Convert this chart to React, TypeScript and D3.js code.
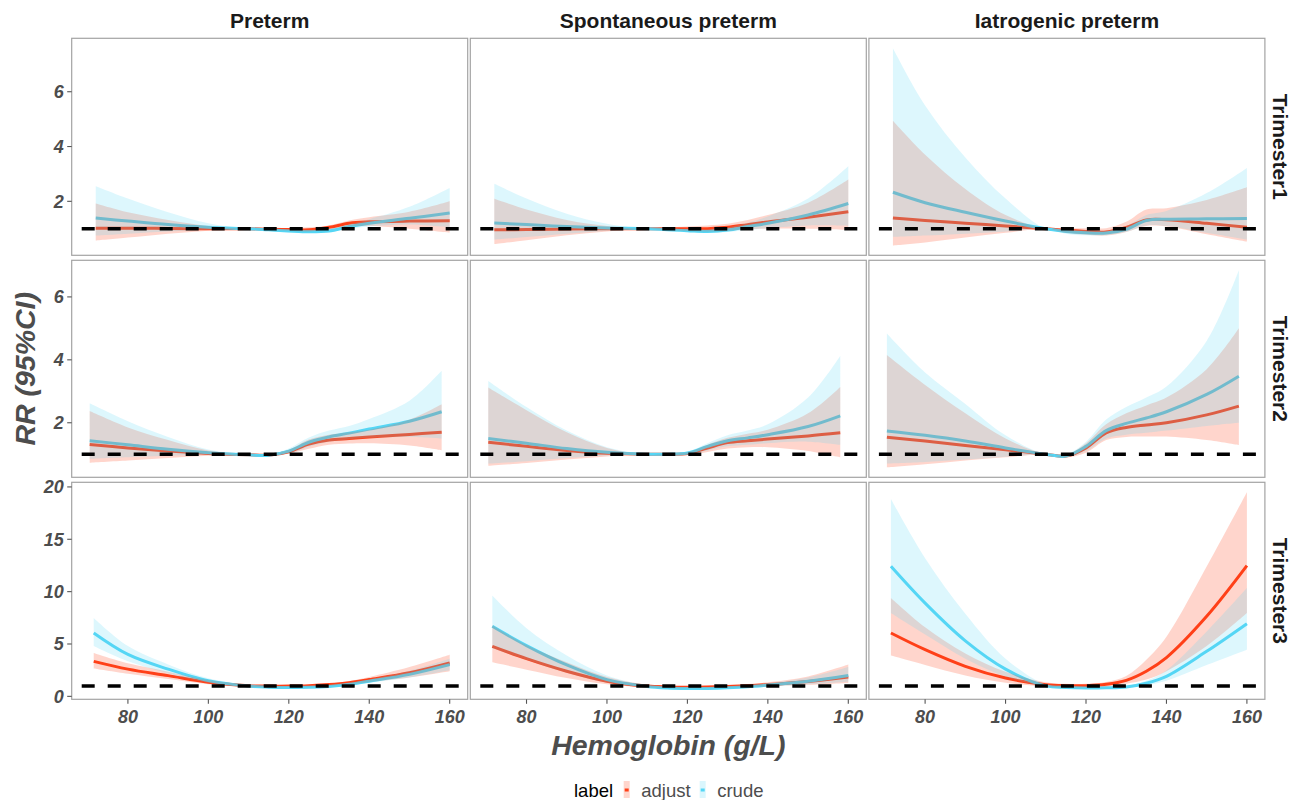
import React from "react";
import * as d3 from "d3";

// facet labels
const outcomes = ["Preterm", "Spontaneous preterm", "Iatrogenic preterm"];
const trimesters = ["Trimester1", "Trimester2", "Trimester3"];
const seriesLabels = ["adjust", "crude"];

// hemoglobin grid (g/L) per trimester
const hbT1 = [72, 80, 90, 100, 110, 115, 120, 125, 130, 135, 140, 150, 160];
const hbT2 = [70.5, 80, 90, 100, 110, 115, 120, 125, 130, 135, 140, 150, 158];
const hbT3 = [71.5, 80, 90, 100, 110, 115, 120, 125, 130, 135, 140, 150, 160];

// Trimester 1
const t1PreAdj = [1.02, 1.02, 1.01, 1.0, 1.0, 0.98, 0.97, 0.96, 1.05, 1.2, 1.25, 1.28, 1.29];
const t1PreAdjLo = [0.57, 0.68, 0.82, 0.93, 1.0, 0.95, 0.93, 0.9, 0.98, 1.08, 1.1, 1.0, 0.86];
const t1PreAdjHi = [1.92, 1.6, 1.32, 1.1, 1.0, 1.01, 1.02, 1.05, 1.12, 1.3, 1.42, 1.62, 2.0];
const t1PreCru = [1.39, 1.28, 1.15, 1.05, 1.0, 0.96, 0.92, 0.89, 0.92, 1.08, 1.2, 1.38, 1.57];
const t1PreCruLo = [0.75, 0.82, 0.9, 0.96, 1.0, 0.92, 0.86, 0.84, 0.87, 1.0, 1.08, 1.15, 1.05];
const t1PreCruHi = [2.55, 2.1, 1.6, 1.2, 1.0, 0.99, 0.98, 0.96, 1.0, 1.16, 1.35, 1.8, 2.49];

const t1SpoAdj = [0.96, 0.97, 0.99, 1.0, 1.0, 1.0, 1.0, 1.0, 1.05, 1.15, 1.25, 1.42, 1.62];
const t1SpoAdjLo = [0.44, 0.58, 0.76, 0.9, 1.0, 0.95, 0.92, 0.9, 0.93, 0.98, 1.0, 1.0, 0.96];
const t1SpoAdjHi = [2.09, 1.7, 1.32, 1.1, 1.0, 1.05, 1.08, 1.12, 1.18, 1.32, 1.5, 1.95, 2.8];
const t1SpoCru = [1.21, 1.15, 1.08, 1.03, 1.0, 0.96, 0.93, 0.9, 0.95, 1.08, 1.2, 1.5, 1.92];
const t1SpoCruLo = [0.6, 0.7, 0.82, 0.93, 1.0, 0.92, 0.87, 0.84, 0.88, 0.96, 1.02, 1.12, 1.1];
const t1SpoCruHi = [2.64, 2.1, 1.55, 1.18, 1.0, 1.0, 1.0, 0.98, 1.05, 1.22, 1.45, 2.1, 3.28];

const t1IatAdj = [1.39, 1.3, 1.2, 1.1, 1.0, 0.94, 0.9, 0.88, 1.05, 1.32, 1.33, 1.2, 1.05];
const t1IatAdjLo = [0.39, 0.5, 0.68, 0.85, 1.0, 0.85, 0.78, 0.75, 0.88, 1.1, 1.08, 0.8, 0.53];
const t1IatAdjHi = [4.94, 3.7, 2.45, 1.5, 1.0, 1.01, 1.02, 1.02, 1.25, 1.7, 1.75, 2.05, 2.51];
const t1IatCru = [2.33, 1.95, 1.6, 1.28, 1.0, 0.9, 0.85, 0.84, 0.98, 1.3, 1.35, 1.36, 1.37];
const t1IatCruLo = [0.7, 0.75, 0.82, 0.9, 1.0, 0.82, 0.76, 0.76, 0.88, 1.12, 1.1, 0.85, 0.6];
const t1IatCruHi = [7.59, 5.5, 3.6, 2.1, 1.0, 0.97, 0.95, 0.93, 1.1, 1.5, 1.65, 2.3, 3.22];

// Trimester 2
const t2PreAdj = [1.31, 1.2, 1.1, 1.02, 0.98, 0.97, 1.08, 1.32, 1.45, 1.5, 1.55, 1.63, 1.7];
const t2PreAdjLo = [0.73, 0.8, 0.88, 0.95, 0.97, 0.96, 1.02, 1.17, 1.3, 1.34, 1.35, 1.28, 1.13];
const t2PreAdjHi = [2.37, 1.85, 1.45, 1.12, 0.99, 0.98, 1.14, 1.47, 1.62, 1.7, 1.78, 2.1, 2.59];
const t2PreCru = [1.43, 1.3, 1.16, 1.05, 0.98, 0.97, 1.1, 1.38, 1.55, 1.67, 1.8, 2.05, 2.35];
const t2PreCruLo = [0.85, 0.9, 0.95, 0.98, 0.97, 0.96, 1.03, 1.24, 1.4, 1.47, 1.52, 1.55, 1.5];
const t2PreCruHi = [2.62, 2.05, 1.55, 1.15, 0.99, 0.98, 1.18, 1.53, 1.75, 1.9, 2.12, 2.7, 3.65];

const t2SpoAdj = [1.38, 1.25, 1.12, 1.03, 1.0, 1.0, 1.02, 1.2, 1.37, 1.43, 1.48, 1.58, 1.68];
const t2SpoAdjLo = [0.63, 0.72, 0.83, 0.93, 1.0, 0.98, 0.97, 1.07, 1.18, 1.22, 1.22, 1.1, 0.9];
const t2SpoAdjHi = [3.12, 2.4, 1.7, 1.2, 1.0, 1.02, 1.06, 1.3, 1.52, 1.65, 1.78, 2.3, 3.14];
const t2SpoCru = [1.5, 1.35, 1.18, 1.06, 1.0, 1.0, 1.04, 1.25, 1.43, 1.52, 1.62, 1.88, 2.22];
const t2SpoCruLo = [0.7, 0.78, 0.88, 0.96, 1.0, 0.98, 0.98, 1.12, 1.25, 1.3, 1.35, 1.4, 1.3];
const t2SpoCruHi = [3.33, 2.5, 1.75, 1.22, 1.0, 1.02, 1.08, 1.35, 1.6, 1.75, 1.95, 2.8, 4.12];

const t2IatAdj = [1.54, 1.42, 1.28, 1.14, 1.0, 0.94, 1.2, 1.68, 1.85, 1.93, 2.0, 2.25, 2.53];
const t2IatAdjLo = [0.58, 0.68, 0.8, 0.9, 1.0, 0.9, 1.05, 1.45, 1.55, 1.56, 1.56, 1.45, 1.29];
const t2IatAdjHi = [4.15, 3.2, 2.3, 1.5, 1.0, 0.98, 1.35, 1.95, 2.3, 2.55, 2.8, 3.7, 5.0];
const t2IatCru = [1.74, 1.6, 1.42, 1.2, 1.0, 0.94, 1.25, 1.75, 1.98, 2.15, 2.35, 2.9, 3.48];
const t2IatCruLo = [0.7, 0.75, 0.83, 0.92, 1.0, 0.9, 1.1, 1.5, 1.62, 1.68, 1.75, 1.9, 2.0];
const t2IatCruHi = [4.84, 3.6, 2.6, 1.6, 1.0, 0.99, 1.4, 2.1, 2.5, 2.8, 3.15, 4.6, 6.85];

// Trimester 3
const t3PreAdj = [3.34, 2.6, 1.98, 1.35, 1.02, 0.98, 0.98, 1.02, 1.12, 1.3, 1.6, 2.25, 3.19];
const t3PreAdjLo = [2.65, 2.15, 1.65, 1.15, 0.9, 0.88, 0.9, 0.94, 1.02, 1.15, 1.38, 1.8, 2.39];
const t3PreAdjHi = [4.14, 3.15, 2.35, 1.55, 1.12, 1.08, 1.06, 1.1, 1.22, 1.46, 1.85, 2.8, 3.98];
const t3PreCru = [6.05, 4.0, 2.6, 1.5, 0.98, 0.88, 0.85, 0.86, 0.95, 1.15, 1.45, 2.1, 3.03];
const t3PreCruLo = [4.8, 3.35, 2.2, 1.3, 0.9, 0.8, 0.78, 0.8, 0.88, 1.05, 1.3, 1.8, 2.5];
const t3PreCruHi = [7.49, 4.8, 3.05, 1.72, 1.06, 0.96, 0.93, 0.94, 1.04, 1.27, 1.62, 2.45, 3.6];

const t3SpoAdj = [4.78, 3.6, 2.4, 1.45, 0.98, 0.9, 0.88, 0.9, 0.95, 1.02, 1.12, 1.42, 1.85];
const t3SpoAdjLo = [3.25, 2.55, 1.75, 1.15, 0.85, 0.8, 0.78, 0.8, 0.85, 0.9, 0.95, 1.1, 1.28];
const t3SpoAdjHi = [6.8, 4.9, 3.25, 1.85, 1.12, 1.02, 1.0, 1.02, 1.08, 1.18, 1.35, 1.9, 3.03];
const t3SpoCru = [6.69, 4.85, 3.0, 1.6, 0.95, 0.8, 0.75, 0.76, 0.82, 0.92, 1.08, 1.45, 2.0];
const t3SpoCruLo = [4.6, 3.5, 2.25, 1.3, 0.85, 0.7, 0.66, 0.67, 0.72, 0.8, 0.92, 1.15, 1.4];
const t3SpoCruHi = [9.62, 6.5, 3.9, 2.0, 1.06, 0.92, 0.87, 0.88, 0.94, 1.06, 1.25, 1.8, 2.8];

const t3IatAdj = [6.05, 4.46, 2.87, 1.75, 1.12, 1.02, 1.02, 1.15, 1.53, 2.4, 3.7, 7.64, 12.48];
const t3IatAdjLo = [3.89, 3.0, 2.0, 1.3, 0.92, 0.85, 0.85, 0.95, 1.2, 1.6, 2.4, 4.8, 7.96];
const t3IatAdjHi = [9.4, 6.6, 4.1, 2.35, 1.35, 1.2, 1.2, 1.38, 1.95, 3.5, 5.7, 12.4, 19.5];
const t3IatCru = [12.42, 8.9, 5.3, 2.6, 1.0, 0.85, 0.8, 0.82, 0.9, 1.25, 1.91, 4.3, 6.94];
const t3IatCruLo = [7.96, 5.9, 3.6, 1.9, 0.88, 0.75, 0.72, 0.74, 0.8, 1.05, 1.5, 3.0, 4.46];
const t3IatCruHi = [18.85, 13.2, 7.9, 3.6, 1.12, 0.97, 0.9, 0.92, 1.02, 1.5, 2.5, 6.2, 10.35];

// tick labels
const xTicks = [80, 100, 120, 140, 160];
const yTicksRow = [[2, 4, 6], [2, 4, 6], [0, 5, 10, 15, 20]];

const hbGrids = [hbT1, hbT2, hbT3];
// panels[row][col] = [adj, adjLo, adjHi, cru, cruLo, cruHi]
const panels = [
  [
    [t1PreAdj, t1PreAdjLo, t1PreAdjHi, t1PreCru, t1PreCruLo, t1PreCruHi],
    [t1SpoAdj, t1SpoAdjLo, t1SpoAdjHi, t1SpoCru, t1SpoCruLo, t1SpoCruHi],
    [t1IatAdj, t1IatAdjLo, t1IatAdjHi, t1IatCru, t1IatCruLo, t1IatCruHi],
  ],
  [
    [t2PreAdj, t2PreAdjLo, t2PreAdjHi, t2PreCru, t2PreCruLo, t2PreCruHi],
    [t2SpoAdj, t2SpoAdjLo, t2SpoAdjHi, t2SpoCru, t2SpoCruLo, t2SpoCruHi],
    [t2IatAdj, t2IatAdjLo, t2IatAdjHi, t2IatCru, t2IatCruLo, t2IatCruHi],
  ],
  [
    [t3PreAdj, t3PreAdjLo, t3PreAdjHi, t3PreCru, t3PreCruLo, t3PreCruHi],
    [t3SpoAdj, t3SpoAdjLo, t3SpoAdjHi, t3SpoCru, t3SpoCruLo, t3SpoCruHi],
    [t3IatAdj, t3IatAdjLo, t3IatAdjHi, t3IatCru, t3IatCruLo, t3IatCruHi],
  ],
];

const ADJ = "#FF4019";
const CRUDE = "#55D6F5";
const FONT = "'Liberation Sans', Arial, Helvetica, sans-serif";
const AXIS_GREY = "#4D4D4D";

const W = 1296;
const H = 800;
const PANEL_W = 396;
const PANEL_H = 217;
const LEFT = 71.7;
const TOP = 38.3;
const COL_GAP = 2.6;
const ROW_GAP = 5;

// ggplot-like 5% expansion
const expand = ([lo, hi]: number[]) => {
  const d = (hi - lo) * 0.05;
  return [lo - d, hi + d];
};

const curve = d3.curveCatmullRom.alpha(0.5);

const App = () => {
  const xDomain = expand(d3.extent(hbGrids.flat()) as number[]);
  const x = d3.scaleLinear().domain(xDomain).range([0, PANEL_W]);

  const yScales = panels.map((row) =>
    d3
      .scaleLinear()
      .domain(expand(d3.extent(row.flat(2)) as number[]))
      .range([PANEL_H, 0])
  );

  const colX = (c: number) => LEFT + c * (PANEL_W + COL_GAP);
  const rowY = (r: number) => TOP + r * (PANEL_H + ROW_GAP);

  return (
    <svg
      width={W}
      height={H}
      style={{ position: "absolute", left: 0, top: 0, background: "#fff" }}
      fontFamily={FONT}
    >
      <rect width={W} height={H} fill="#fff" />

      {/* column strips */}
      {outcomes.map((o, c) => (
        <text
          key={o}
          x={colX(c) + PANEL_W / 2}
          y={28}
          textAnchor="middle"
          fontSize={21}
          fontWeight="bold"
          fill="#1A1A1A"
        >
          {o}
        </text>
      ))}

      {/* row strips */}
      {trimesters.map((t, r) => (
        <text
          key={t}
          transform={`translate(1273,${rowY(r) + PANEL_H / 2}) rotate(90)`}
          textAnchor="middle"
          fontSize={21}
          fontWeight="bold"
          fill="#1A1A1A"
        >
          {t}
        </text>
      ))}

      {panels.map((row, r) =>
        row.map((s, c) => {
          const y = yScales[r];
          const hb = hbGrids[r];
          const [adj, adjLo, adjHi, cru, cruLo, cruHi] = s;
          const line = (v: number[]) =>
            d3
              .line<number>()
              .x((_, i) => x(hb[i]))
              .y((d) => y(d))
              .curve(curve)(v) as string;
          const band = (lo: number[], hi: number[]) =>
            d3
              .area<number>()
              .x((_, i) => x(hb[i]))
              .y0((_, i) => y(lo[i]))
              .y1((_, i) => y(hi[i]))
              .curve(curve)(hb) as string;
          return (
            <g key={`${r}-${c}`} transform={`translate(${colX(c)},${rowY(r)})`}>
              <rect width={PANEL_W} height={PANEL_H} fill="#fff" />
              <path d={line(adj)} fill="none" stroke={ADJ} strokeWidth={3} />
              <path d={line(cru)} fill="none" stroke={CRUDE} strokeWidth={3} />
              <path d={band(adjLo, adjHi)} fill={ADJ} fillOpacity={0.22} />
              <path d={band(cruLo, cruHi)} fill={CRUDE} fillOpacity={0.2} />
              <line
                x1={0}
                x2={PANEL_W}
                y1={y(1)}
                y2={y(1)}
                stroke="#000"
                strokeWidth={3.5}
                strokeDasharray="13 13"
                strokeDashoffset={-10}
              />
              <rect
                width={PANEL_W}
                height={PANEL_H}
                fill="none"
                stroke="#A3A3A3"
                strokeWidth={1.2}
              />

              {/* y axis on first column */}
              {c === 0 &&
                yTicksRow[r].map((t) => (
                  <g key={t} transform={`translate(0,${y(t)})`}>
                    <line x1={-4.5} x2={0} stroke="#555" strokeWidth={1.1} />
                    <text
                      x={-8}
                      dy="0.36em"
                      textAnchor="end"
                      fontSize={18}
                      fontWeight="bold"
                      fontStyle="italic"
                      fill={AXIS_GREY}
                    >
                      {t}
                    </text>
                  </g>
                ))}

              {/* x axis on bottom row */}
              {r === 2 &&
                xTicks.map((t) => (
                  <g key={t} transform={`translate(${x(t)},${PANEL_H})`}>
                    <line y1={0} y2={4.5} stroke="#555" strokeWidth={1.1} />
                    <text
                      y={23.5}
                      textAnchor="middle"
                      fontSize={18}
                      fontWeight="bold"
                      fontStyle="italic"
                      fill={AXIS_GREY}
                    >
                      {t}
                    </text>
                  </g>
                ))}
            </g>
          );
        })
      )}

      {/* axis titles */}
      <text
        x={colX(0) + (3 * PANEL_W + 2 * COL_GAP) / 2}
        y={755}
        textAnchor="middle"
        fontSize={28.5}
        fontWeight="bold"
        fontStyle="italic"
        fill={AXIS_GREY}
      >
        Hemoglobin (g/L)
      </text>
      <text
        transform={`translate(35,${rowY(0) + (3 * PANEL_H + 2 * ROW_GAP) / 2}) rotate(-90)`}
        textAnchor="middle"
        fontSize={28.5}
        fontWeight="bold"
        fontStyle="italic"
        fill={AXIS_GREY}
      >
        RR (95%CI)
      </text>

      {/* legend */}
      <g fontSize={18.5}>
        <text x={574} y={797} fill="#000">
          label
        </text>
        {seriesLabels.map((lab, i) => {
          const kx = i === 0 ? 626.7 : 702.7;
          const col = i === 0 ? ADJ : CRUDE;
          return (
            <g key={lab}>
              <rect x={kx - 3} y={781} width={6} height={17} fill={col} fillOpacity={0.22} />
              <rect x={kx - 2} y={788.5} width={4} height={3} fill={col} />
              <text x={kx + 14.5} y={797} fill={AXIS_GREY}>
                {lab}
              </text>
            </g>
          );
        })}
      </g>
    </svg>
  );
};

export default App;
